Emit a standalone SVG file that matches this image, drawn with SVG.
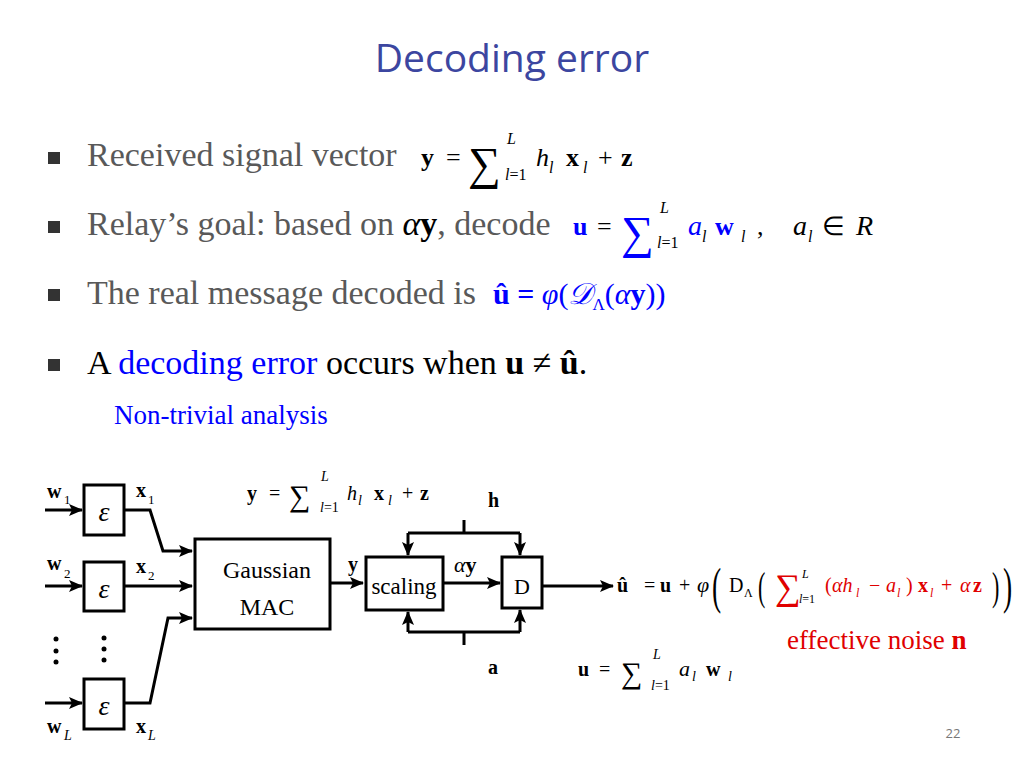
<svg xmlns="http://www.w3.org/2000/svg" width="1024" height="768" viewBox="0 0 1024 768">
<style>
.t{font-family:"Liberation Serif",serif}
.i{font-style:italic}
.k{font-weight:bold}
.g{fill:#595959}
.b{fill:#0000ff}
.r{fill:#e00000}
.ln{stroke:#000;stroke-width:3;fill:none}
.bx{stroke:#000;stroke-width:3;fill:#fff}
</style>
<defs><marker id="ah2" markerWidth="14" markerHeight="12" refX="13" refY="6" orient="auto" markerUnits="userSpaceOnUse"><path d="M0,0 L14,6 L0,12 L3,6z" fill="#000"/></marker></defs>
<rect width="1024" height="768" fill="#fff"/>
<text x="512" y="72" text-anchor="middle" font-family="'Open Sans',sans-serif" font-size="39" fill="#3c46a0">Decoding error</text>
<g fill="#333"><rect x="48" y="152" width="12" height="12"/><rect x="48" y="221" width="12" height="12"/><rect x="48" y="289" width="12" height="12"/><rect x="48" y="359" width="12" height="12"/></g>
<g class="t">
<text class="g" x="87" y="166" font-size="34">Received signal vector</text>
<text x="421" y="166" font-size="26" class="k">y</text><text x="446" y="166" font-size="26">=</text>
<text x="468" y="179" font-size="46">∑</text>
<text x="507" y="144" font-size="16" class="i">L</text>
<text x="505" y="180" font-size="16"><tspan class="i">l</tspan>=1</text>
<text x="536" y="166" font-size="26" class="i">h</text><text x="549" y="173" font-size="16" class="i">l</text>
<text x="566" y="166" font-size="26" class="k">x</text><text x="583" y="173" font-size="16" class="i">l</text>
<text x="598" y="166" font-size="26">+</text><text x="621" y="166" font-size="26" class="k">z</text>

<text class="g" x="87" y="235" font-size="34">Relay’s goal: based on <tspan class="i" fill="#000">α</tspan><tspan class="k" fill="#000">y</tspan>, decode</text>
<text x="573" y="235" font-size="26" class="k b">u</text><text x="597" y="235" font-size="26">=</text>
<text x="621" y="248" font-size="46" class="b">∑</text>
<text x="660" y="213" font-size="16" class="i">L</text>
<text x="657" y="248" font-size="16"><tspan class="i">l</tspan>=1</text>
<text x="688" y="235" font-size="28" class="i b">a</text><text x="702" y="242" font-size="16" class="i">l</text>
<text x="715" y="235" font-size="26" class="k b">w</text><text x="741" y="242" font-size="16" class="i">l</text>
<text x="757" y="235" font-size="26">,</text>
<text x="793" y="235" font-size="28" class="i">a</text><text x="808" y="242" font-size="16" class="i">l</text>
<text x="822" y="235" font-size="26">∈</text><text x="856" y="235" font-size="28" class="i">R</text>

<text class="g" x="87" y="304" font-size="34">The real message decoded is</text>
<text class="b" x="493" y="304" font-size="30"><tspan class="k">û =</tspan> <tspan class="i">φ</tspan>(<tspan class="i">𝒟</tspan><tspan font-size="17" dy="6">Λ</tspan><tspan dy="-6">(</tspan><tspan class="i">α</tspan><tspan class="k">y</tspan>))</text>
<text x="87" y="374" font-size="34">A <tspan class="b">decoding error</tspan> occurs when <tspan class="k">u</tspan> ≠ <tspan class="k">û</tspan>.</text>
<text class="b" x="114" y="424" font-size="27">Non-trivial analysis</text>
</g>

<g id="enc1"><rect class="bx" x="84" y="485" width="40" height="50"/><text class="t i" x="104" y="521" font-size="28" text-anchor="middle">ε</text></g>
<g id="enc2"><rect class="bx" x="84" y="562" width="40" height="49"/><text class="t i" x="104" y="598" font-size="28" text-anchor="middle">ε</text></g>
<g id="encL"><rect class="bx" x="84" y="679" width="40" height="50"/><text class="t i" x="104" y="715" font-size="28" text-anchor="middle">ε</text></g>
<g id="mac"><rect class="bx" x="195" y="539" width="135" height="90"/><text class="t" x="267" y="578" font-size="24" text-anchor="middle">Gaussian</text><text class="t" x="267" y="615" font-size="24" text-anchor="middle">MAC</text></g>
<g id="scaling"><rect class="bx" x="366" y="557" width="77" height="53"/><text class="t" x="404" y="594" font-size="23" text-anchor="middle">scaling</text></g>
<g id="D"><rect class="bx" x="502" y="557" width="40" height="51"/><text class="t" x="522" y="594" font-size="22" text-anchor="middle">D</text></g>
<g fill="#000"><circle cx="56" cy="639" r="2.5"/><circle cx="56" cy="651" r="2.5"/><circle cx="56" cy="662" r="2.5"/><circle cx="104" cy="638" r="2.5"/><circle cx="104" cy="649" r="2.5"/><circle cx="104" cy="660" r="2.5"/></g>
<g id="connectors" class="ln">
<path d="M45,510 H82" marker-end="url(#ah2)"/>
<path d="M45,586 H82" marker-end="url(#ah2)"/>
<path d="M45,703 H82" marker-end="url(#ah2)"/>
<path d="M125,510 H150 L163,551 H192" marker-end="url(#ah2)"/>
<path d="M125,586 H192" marker-end="url(#ah2)"/>
<path d="M125,703 H150 L168,618 H192" marker-end="url(#ah2)"/>
<path d="M331,583 H363" marker-end="url(#ah2)"/>
<path d="M444,583 H500" marker-end="url(#ah2)"/>
<path d="M464,520 V533"/><path d="M408,533 H520"/>
<path d="M408,533 V555" marker-end="url(#ah2)"/><path d="M520,533 V555" marker-end="url(#ah2)"/>
<path d="M464,645 V632"/><path d="M408,632 H520"/>
<path d="M408,632 V612" marker-end="url(#ah2)"/><path d="M520,632 V610" marker-end="url(#ah2)"/>
<path d="M543,586 H613" marker-end="url(#ah2)"/>
</g>
<g class="t" font-size="20">
<text x="47" y="498" class="k">w</text><text x="64" y="504" font-size="13">1</text>
<text x="47" y="570" class="k">w</text><text x="64" y="578" font-size="13">2</text>
<text x="47" y="733" class="k">w</text><text x="64" y="740" font-size="14" class="i">L</text>
<text x="136" y="497" class="k">x</text><text x="148" y="504" font-size="13">1</text>
<text x="136" y="573" class="k">x</text><text x="148" y="580" font-size="13">2</text>
<text x="136" y="733" class="k">x</text><text x="148" y="740" font-size="14" class="i">L</text>
<text x="348" y="571" class="k">y</text>
<text x="454" y="572" font-size="22"><tspan class="i">α</tspan><tspan class="k">y</tspan></text>
<text x="488" y="507" class="k">h</text>
<text x="488" y="674" class="k">a</text>

<text x="247" y="500" class="k">y</text><text x="269" y="500">=</text>
<text x="289" y="506" font-size="30">∑</text>
<text x="321" y="481" font-size="14" class="i">L</text>
<text x="320" y="512" font-size="14"><tspan class="i">l</tspan>=1</text>
<text x="347" y="500" class="i">h</text><text x="358" y="505" font-size="14" class="i">l</text>
<text x="374" y="500" class="k">x</text><text x="388" y="505" font-size="14" class="i">l</text>
<text x="402" y="500">+</text><text x="420" y="500" class="k">z</text>

<text x="578" y="676" class="k">u</text><text x="599" y="676">=</text>
<text x="621" y="683" font-size="30">∑</text>
<text x="653" y="659" font-size="14" class="i">L</text>
<text x="651" y="690" font-size="14"><tspan class="i">l</tspan>=1</text>
<text x="679" y="676" font-size="22" class="i">a</text><text x="692" y="681" font-size="14" class="i">l</text>
<text x="706" y="676" class="k">w</text><text x="728" y="681" font-size="14" class="i">l</text>

<text x="617" y="592" class="k">û</text>
<text x="644" y="592">=</text><text x="660" y="592" class="k">u</text><text x="679" y="592">+</text>
<text x="697" y="592" font-size="22" class="i">φ</text>
<text x="712" y="603" font-size="50" transform="matrix(0.55,0,0,1,320.4,0)">(</text>
<text x="729" y="592">D</text><text x="744" y="597" font-size="12">Λ</text>
<text x="758" y="600" font-size="40" transform="matrix(0.55,0,0,1,341.1,0)">(</text>
<text x="775" y="599" font-size="36" class="r">∑</text>
<text x="802" y="578" font-size="12" class="i">L</text>
<text x="799" y="603" font-size="12"><tspan class="i">l</tspan>=1</text>
<text x="825" y="592" class="r">(</text>
<text x="832" y="592" class="r i">αh</text><text x="856" y="597" font-size="12" class="i r">l</text>
<text x="869" y="592" class="r">−</text>
<text x="886" y="592" class="r i">a</text><text x="897" y="597" font-size="12" class="i r">l</text>
<text x="906" y="592" class="r">)</text>
<text x="918" y="592" class="r k">x</text><text x="930" y="597" font-size="12" class="i r">l</text>
<text x="941" y="592" class="r">+</text>
<text x="960" y="592" class="r i">α</text><text x="973" y="592" class="r k">z</text>
<text x="992" y="600" font-size="40" transform="matrix(0.55,0,0,1,446.4,0)">)</text>
<text x="1003" y="603" font-size="50" transform="matrix(0.55,0,0,1,451.35,0)">)</text>
</g>
<text class="t r" x="787" y="649" font-size="27">effective noise <tspan font-weight="bold">n</tspan></text>
<text x="953" y="738" font-family="'Open Sans',sans-serif" font-size="13" fill="#777" text-anchor="middle">22</text>
</svg>
